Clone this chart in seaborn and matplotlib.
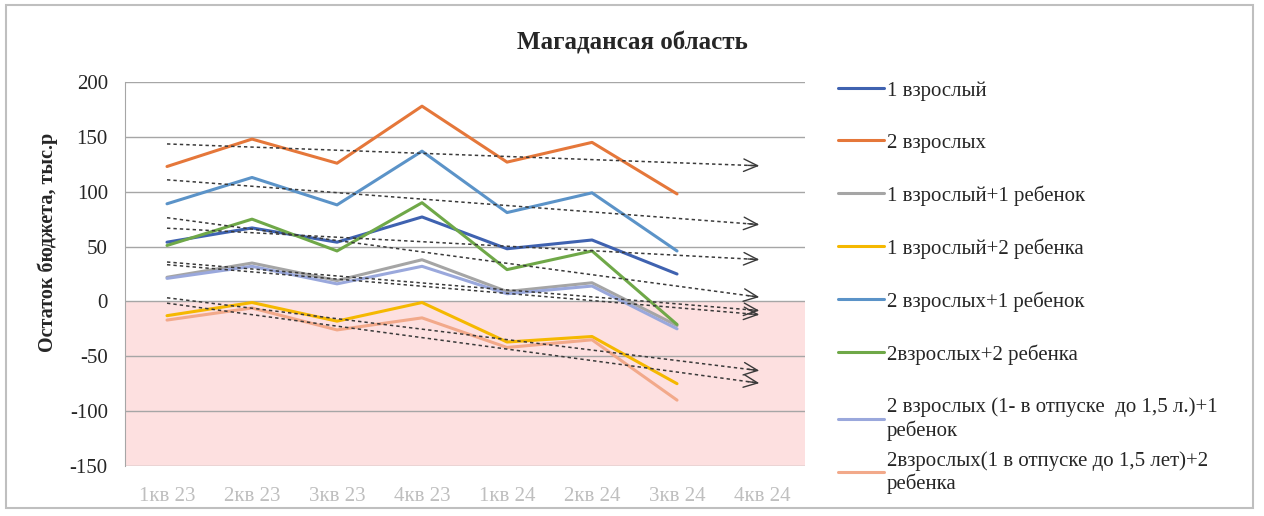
import matplotlib.pyplot as plt
import numpy as np
import pandas as pd
import seaborn as sns
from matplotlib.patches import Rectangle

QUARTERS = ["1кв 23", "2кв 23", "3кв 23", "4кв 23", "1кв 24", "2кв 24", "3кв 24", "4кв 24"]

SERIES_NAMES = [
    "1 взрослый",
    "2 взрослых",
    "1 взрослый+1 ребенок",
    "1 взрослый+2 ребенка",
    "2 взрослых+1 ребенок",
    "2взрослых+2 ребенка",
    "2 взрослых (1- в отпуске  до 1,5 л.)+1\nребенок",
    "2взрослых(1 в отпуске до 1,5 лет)+2\nребенка",
]

one_adult = [54, 67, 54, 77, 48, 56, 25]
two_adults = [123, 148, 126, 178, 127, 145, 98]
one_adult_one_child = [22, 35, 19, 38, 9, 17, -22]
one_adult_two_children = [-13, -1, -18, -1, -37, -32, -75]
two_adults_one_child = [89, 113, 88, 137, 81, 99, 46]
two_adults_two_children = [51, 75, 46, 90, 29, 46, -21]
two_adults_leave_one_child = [21, 32, 16, 32, 7, 14, -25]
two_adults_leave_two_children = [-17, -6, -26, -15, -42, -35, -90]

COLORS = ["#3F62B0", "#E5773A", "#A5A5A5", "#F5B800", "#5B93C8", "#6FA848", "#9AA8DC", "#F2A98A"]

plt.rcParams["figure.dpi"] = 100

series_values = [
    one_adult,
    two_adults,
    one_adult_one_child,
    one_adult_two_children,
    two_adults_one_child,
    two_adults_two_children,
    two_adults_leave_one_child,
    two_adults_leave_two_children,
]

rows = []
for name, values in zip(SERIES_NAMES, series_values):
    for index, value in enumerate(values):
        rows.append({"quarter": index, "value": value, "series": name})
df = pd.DataFrame(rows)

sns.set_style("white")
plt.rcParams["font.family"] = ["Liberation Serif", "DejaVu Serif"]
plt.rcParams["axes.unicode_minus"] = False

fig = plt.figure(figsize=(12.64, 5.16))
ax = fig.add_axes([0.0985, 0.097, 0.538, 0.744])

ax.axhspan(-150, 0, color="#FDE0E0", zorder=0, lw=0)
for tick in range(-150, 201, 50):
    ax.axhline(tick, color="#A6A6A6", lw=1.0, zorder=1)

sns.lineplot(
    data=df,
    x="quarter",
    y="value",
    hue="series",
    hue_order=SERIES_NAMES,
    palette=COLORS,
    lw=2.2,
    ax=ax,
    zorder=3,
)

# linear trend lines, forecast one period forward
for values in series_values:
    x = np.arange(len(values))
    slope, intercept = np.polyfit(x, values, 1)
    x_end = len(values)
    ax.plot([0, x_end - 0.05], [intercept, intercept + slope * (x_end - 0.05)],
            color="#3A3A3A", lw=1.1, ls=(0, (2.2, 2.0)), zorder=4)
    y_end = intercept + slope * x_end
    ax.annotate(
        "",
        xy=(x_end, y_end),
        xytext=(x_end - 0.2, intercept + slope * (x_end - 0.2)),
        arrowprops=dict(arrowstyle="->,head_length=1.0,head_width=0.45", color="#3A3A3A", lw=1.0),
        zorder=4,
    )

ax.set_xlim(-0.5, 7.5)
ax.set_ylim(-150, 200)
ax.set_yticks(range(-150, 201, 50))
ax.set_xticks(range(len(QUARTERS)))
ax.set_xticklabels(QUARTERS, color="#BFBFBF", fontsize=15)
ax.tick_params(axis="y", labelsize=15, length=8, color="#A6A6A6", direction="out", pad=4)
ax.tick_params(axis="x", length=0, pad=15)
ax.set_xlabel("")
ax.set_ylabel("")
for side in ["top", "right", "bottom"]:
    ax.spines[side].set_visible(False)
ax.spines["left"].set_color("#A6A6A6")

fig.text(0.5, 0.917, "Магадансая область", ha="center", va="center",
         fontsize=18, fontweight="bold")
fig.text(0.038, 0.531, "Остаток бюджета, тыс.р", ha="center", va="center",
         rotation=90, fontsize=14.5, fontweight="bold")

handles, labels = ax.get_legend_handles_labels()
legend_style = dict(
    loc="upper left",
    bbox_transform=fig.transFigure,
    frameon=False,
    fontsize=15,
    handlelength=2.2,
    handletextpad=0.15,
    borderaxespad=0,
    borderpad=0,
)
main_legend = ax.legend(handles[:7], labels[:7], bbox_to_anchor=(0.663, 0.843),
                        labelspacing=1.56, **legend_style)
ax.add_artist(main_legend)
ax.legend(handles[7:], labels[7:], bbox_to_anchor=(0.663, 0.126), **legend_style)

fig.patches.append(Rectangle((0.005, 0.015), 0.986, 0.975, transform=fig.transFigure,
                             fill=False, ec="#BFBFBF", lw=1.5))

fig.savefig("out.png", dpi=100)
